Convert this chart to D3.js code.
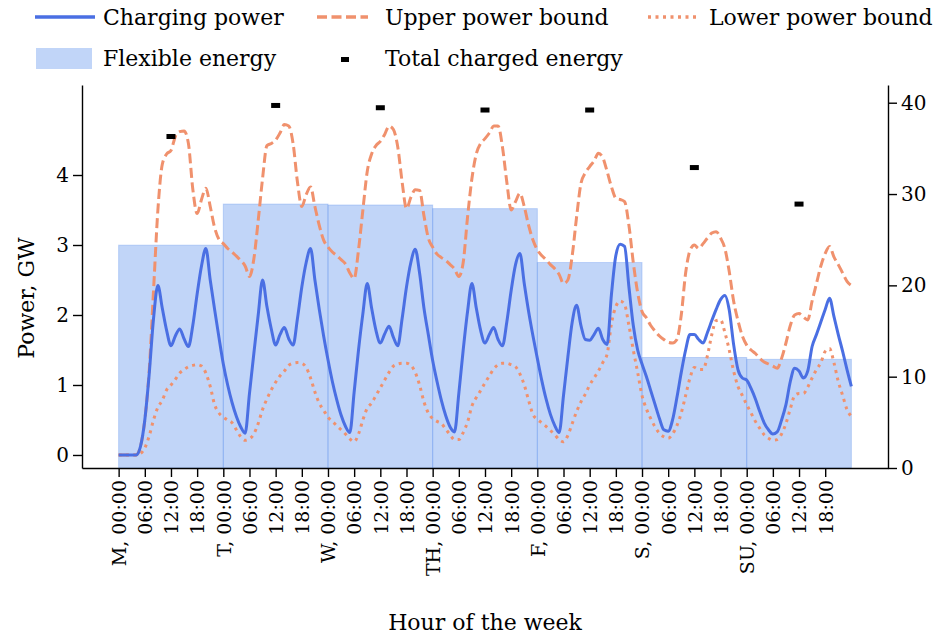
<!DOCTYPE html>
<html>
<head>
<meta charset="utf-8">
<script src="https://cdn.jsdelivr.net/npm/d3@7"></script>
<style>
  html, body { margin: 0; padding: 0; background: #fff; }
  svg { display: block; }
  text { font-family: "DejaVu Serif", serif; fill: #000; }
</style>
</head>
<body>
<svg id="chart" width="940" height="635"></svg>
<script>
// Hour of the week, 0 = Monday 00:00
const hours = d3.range(0, 169);

// Charging power, GW (hourly)
const chargingPower = [
  0, 0, 0, 0, 0, 0.12, 0.5, 1.15, 1.95, 2.42, 2.1, 1.78, 1.56, 1.7, 1.8, 1.66, 1.55, 1.85, 2.3, 2.7, 2.95, 2.5, 2.08, 1.68,
  1.3, 1.0, 0.75, 0.55, 0.4, 0.31, 0.88, 1.45, 2.0, 2.5, 2.12, 1.8, 1.57, 1.72, 1.82, 1.66, 1.57, 1.95, 2.4, 2.75, 2.95, 2.5, 2.08, 1.7,
  1.36, 1.05, 0.79, 0.57, 0.41, 0.32, 0.9, 1.5, 2.02, 2.45, 2.1, 1.78, 1.6, 1.73, 1.84, 1.68, 1.56, 1.95, 2.4, 2.75, 2.94, 2.6, 2.1, 1.72,
  1.35, 1.05, 0.78, 0.56, 0.4, 0.33, 0.88, 1.5, 2.05, 2.45, 2.1, 1.78, 1.6, 1.72, 1.82, 1.65, 1.56, 1.9, 2.35, 2.72, 2.88, 2.45, 2.05, 1.7,
  1.38, 1.07, 0.8, 0.58, 0.42, 0.32, 0.85, 1.4, 1.9, 2.14, 1.85, 1.65, 1.64, 1.72, 1.81, 1.65, 1.58, 2.3, 2.85, 3.01, 2.98, 2.4, 1.85, 1.5,
  1.3, 1.12, 0.92, 0.72, 0.52, 0.36, 0.34, 0.5, 0.82, 1.18, 1.5, 1.72, 1.72, 1.65, 1.6, 1.75, 1.92, 2.08, 2.22, 2.28, 2.07, 1.58, 1.22, 1.1,
  1.07, 0.95, 0.8, 0.62, 0.46, 0.36, 0.3, 0.33, 0.5, 0.72, 1.05, 1.24, 1.2, 1.1, 1.2, 1.55, 1.72, 1.9, 2.08, 2.24, 1.98, 1.72, 1.48, 1.22,
  0.98
];

// Upper power bound, GW (hourly)
const upperBound = [
  0, 0, 0, 0, 0, 0.12, 0.5, 1.2, 2.35, 3.5, 4.15, 4.3, 4.35, 4.55, 4.62, 4.63, 4.45, 3.8, 3.45, 3.65, 3.81, 3.55, 3.25, 3.08,
  3.02, 2.95, 2.9, 2.84, 2.78, 2.7, 2.55, 2.8, 3.35, 3.95, 4.42, 4.45, 4.5, 4.6, 4.72, 4.7, 4.45, 3.9, 3.55, 3.72, 3.83, 3.55, 3.28, 3.07,
  2.97, 2.9, 2.85, 2.79, 2.73, 2.6, 2.52, 2.93, 3.5, 4.05, 4.3, 4.42, 4.48, 4.58, 4.7, 4.65, 4.4, 3.9, 3.52, 3.68, 3.79, 3.78, 3.42, 3.1,
  2.97, 2.87, 2.82, 2.78, 2.72, 2.66, 2.55, 2.75, 3.4, 3.95, 4.3, 4.45, 4.52, 4.6, 4.7, 4.7, 4.4, 3.9, 3.5, 3.62, 3.74, 3.55, 3.28, 3.07,
  2.93, 2.85, 2.79, 2.72, 2.66, 2.58, 2.45, 2.5, 2.85, 3.4, 3.88, 4.03, 4.12, 4.2, 4.31, 4.25, 4.05, 3.83, 3.67, 3.65, 3.62, 3.28, 2.75, 2.32,
  2.05, 1.96, 1.85, 1.77, 1.7, 1.65, 1.61, 1.6, 1.65, 2.0, 2.6, 2.92, 3.0, 2.95, 3.02, 3.1, 3.17, 3.19, 3.1, 2.95, 2.62, 2.2, 1.92, 1.7,
  1.57, 1.5, 1.45, 1.38, 1.33, 1.3, 1.27, 1.24, 1.38, 1.6, 1.85, 2.0, 2.02, 1.97, 1.93, 2.2, 2.45, 2.7, 2.88, 2.98, 2.83, 2.72, 2.6, 2.48,
  2.42
];

// Lower power bound, GW (hourly)
const lowerBound = [
  0, 0, 0, 0, 0, 0.02, 0.1, 0.27, 0.5, 0.68, 0.78, 0.93, 1.0, 1.08, 1.17, 1.22, 1.26, 1.28, 1.29, 1.27, 1.17, 0.98, 0.72, 0.6,
  0.54, 0.5, 0.46, 0.36, 0.26, 0.21, 0.23, 0.3, 0.45, 0.65, 0.8, 0.93, 1.04, 1.13, 1.2, 1.28, 1.31, 1.32, 1.31, 1.25, 1.1, 0.9, 0.74, 0.64,
  0.54, 0.48, 0.42, 0.36, 0.3, 0.23, 0.19, 0.3, 0.5, 0.67, 0.74, 0.85, 0.96, 1.07, 1.18, 1.27, 1.3, 1.31, 1.31, 1.28, 1.18, 1.0, 0.76, 0.6,
  0.52, 0.48, 0.45, 0.37, 0.29, 0.22, 0.22, 0.32, 0.47, 0.7, 0.82, 0.92, 1.03, 1.13, 1.23, 1.29, 1.31, 1.31, 1.29, 1.26, 1.16, 1.0, 0.78, 0.58,
  0.51, 0.46, 0.41, 0.35, 0.29, 0.22, 0.19, 0.28, 0.45, 0.62, 0.76, 0.87, 1.0, 1.1, 1.2, 1.32, 1.44, 1.88, 2.12, 2.2, 2.15, 1.85, 1.5, 1.18,
  0.85, 0.66, 0.52, 0.4, 0.31, 0.26, 0.24, 0.3, 0.42, 0.6, 0.85, 1.1, 1.25, 1.22, 1.22, 1.42, 1.72, 1.92, 1.93, 1.75, 1.5, 1.2, 0.98, 0.85,
  0.72, 0.6, 0.48, 0.38, 0.29, 0.24, 0.21, 0.22, 0.3, 0.45, 0.66, 0.85, 0.88, 0.88, 0.97, 1.1, 1.22, 1.32, 1.48, 1.52, 1.32, 1.05, 0.85, 0.65,
  0.55
];

// Daily energy (right axis)
const days = ["M", "T", "W", "TH", "F", "S", "SU"];
const flexibleEnergy = [24.4, 28.9, 28.8, 28.4, 22.5, 12.1, 11.9];
const totalChargedEnergy = [36.3, 39.7, 39.45, 39.2, 39.2, 32.9, 28.9];

const tickHours = d3.range(0, 168, 6);
const leftTicks = [0, 1, 2, 3, 4];
const rightTicks = [0, 10, 20, 30, 40];

const seriesStyle = {
  charging: { color: "#4a6fe3", width: 3, dash: null },
  upper: { color: "#f0916d", width: 3, dash: "10,4.5" },
  lower: { color: "#f0916d", width: 3, dash: "3,4.5" }
};
const barColor = "#6495ed";

const svg = d3.select("#chart");
const plotLeft = 82, plotRight = 888, plotTop = 85, plotBottom = 468;

const x = d3.scaleLinear().domain([-8.4, 176.4]).range([plotLeft, plotRight]);
const yL = d3.scaleLinear().domain([-0.186, 5.286]).range([plotBottom, plotTop]);
const yR = d3.scaleLinear().domain([0, 41.94]).range([plotBottom, plotTop]);

// Flexible energy bars, one per day
svg.append("g")
  .selectAll("rect")
  .data(flexibleEnergy)
  .join("rect")
  .attr("x", (d, i) => x(i * 24))
  .attr("width", (d, i) => x((i + 1) * 24) - x(i * 24))
  .attr("y", d => yR(d))
  .attr("height", d => yR(0) - yR(d))
  .attr("fill", barColor)
  .attr("fill-opacity", 0.4)
  .attr("stroke", barColor)
  .attr("stroke-opacity", 0.35)
  .attr("stroke-width", 1);

// Power series
const line = vals => d3.line()
  .x((d, i) => x(hours[i]))
  .y(d => yL(d))
  .curve(d3.curveMonotoneX)(vals);

function drawSeries(vals, st) {
  svg.append("path")
    .attr("d", line(vals))
    .attr("fill", "none")
    .attr("stroke", st.color)
    .attr("stroke-width", st.width)
    .attr("stroke-linejoin", "round")
    .attr("stroke-dasharray", st.dash);
}
drawSeries(upperBound, seriesStyle.upper);
drawSeries(lowerBound, seriesStyle.lower);
drawSeries(chargingPower, seriesStyle.charging);

// Total charged energy markers at midday
svg.append("g")
  .selectAll("rect")
  .data(totalChargedEnergy)
  .join("rect")
  .attr("x", (d, i) => x(i * 24 + 12) - 4.5)
  .attr("y", d => yR(d) - 2.5)
  .attr("width", 9)
  .attr("height", 5)
  .attr("fill", "#000");

// Axes
const fmtHour = h => {
  const hh = String(h % 24).padStart(2, "0") + ":00";
  return h % 24 === 0 ? days[h / 24] + ", " + hh : hh;
};

const xAxis = svg.append("g")
  .attr("transform", `translate(0,${plotBottom})`)
  .call(d3.axisBottom(x).tickValues(tickHours).tickFormat(fmtHour).tickSize(9).tickSizeOuter(0));
xAxis.selectAll("text")
  .attr("transform", "rotate(-90)")
  .attr("x", -12)
  .attr("y", 0)
  .attr("dy", "0.36em")
  .style("text-anchor", "end")
  .style("font-size", "19px");

const yAxisL = svg.append("g")
  .attr("transform", `translate(${plotLeft},0)`)
  .call(d3.axisLeft(yL).tickValues(leftTicks).tickFormat(d3.format("d")).tickSize(9).tickSizeOuter(0));
yAxisL.selectAll("text").style("font-size", "20px").attr("x", -13);

const yAxisR = svg.append("g")
  .attr("transform", `translate(${plotRight},0)`)
  .call(d3.axisRight(yR).tickValues(rightTicks).tickFormat(d3.format("d")).tickSize(9).tickSizeOuter(0));
yAxisR.selectAll("text").style("font-size", "20px").attr("x", 13);

svg.selectAll(".domain").attr("stroke", "#000").attr("stroke-width", 1.4);
svg.selectAll(".tick line").attr("stroke", "#000").attr("stroke-width", 1.4);
svg.selectAll(".tick text").style("font-family", "DejaVu Serif, serif").attr("fill", "#000");

// Axis titles
svg.append("text")
  .attr("transform", "translate(26,298) rotate(-90)")
  .attr("text-anchor", "middle")
  .attr("dominant-baseline", "central")
  .style("font-size", "22px")
  .text("Power, GW");

svg.append("text")
  .attr("x", (plotLeft + plotRight) / 2)
  .attr("y", 622)
  .attr("text-anchor", "middle")
  .attr("dominant-baseline", "central")
  .style("font-size", "22px")
  .text("Hour of the week");

// Legend
const legend = svg.append("g").style("font-size", "22px");
const legendLines = [
  { key: "charging", label: "Charging power", x0: 35, x1: 95, tx: 103 },
  { key: "upper", label: "Upper power bound", x0: 317, x1: 368, tx: 385 },
  { key: "lower", label: "Lower power bound", x0: 648, x1: 697, tx: 709 }
];
legendLines.forEach(d => {
  const st = seriesStyle[d.key];
  legend.append("line")
    .attr("x1", d.x0).attr("x2", d.x1).attr("y1", 17).attr("y2", 17)
    .attr("stroke", st.color).attr("stroke-width", st.width + 0.6)
    .attr("stroke-dasharray", st.dash);
  legend.append("text")
    .attr("x", d.tx).attr("y", 17)
    .attr("dominant-baseline", "central")
    .text(d.label);
});
legend.append("rect")
  .attr("x", 36).attr("y", 48).attr("width", 56).attr("height", 21)
  .attr("fill", barColor).attr("fill-opacity", 0.4);
legend.append("text")
  .attr("x", 103).attr("y", 58)
  .attr("dominant-baseline", "central")
  .text("Flexible energy");
legend.append("rect")
  .attr("x", 341).attr("y", 57).attr("width", 8).attr("height", 5)
  .attr("fill", "#000");
legend.append("text")
  .attr("x", 385).attr("y", 58)
  .attr("dominant-baseline", "central")
  .text("Total charged energy");
</script>
</body>
</html>
